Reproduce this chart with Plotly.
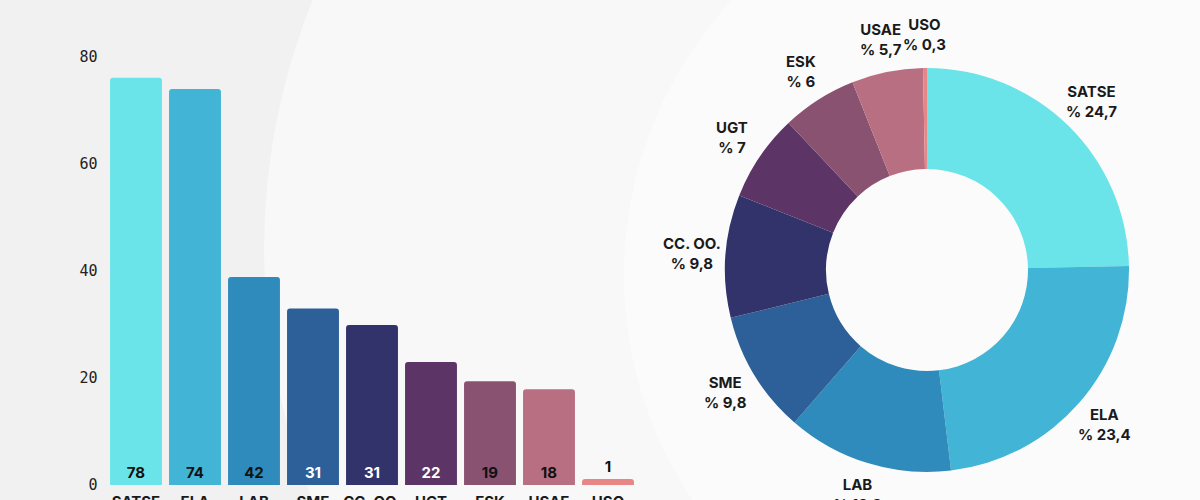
import math
import plotly.graph_objects as go

# seats per union (labels) and bar heights as drawn in the picture
unions = ["SATSE", "ELA", "LAB", "SME", "CC. OO.", "UGT", "ESK", "USAE", "USO"]
seats = [78, 74, 42, 31, 31, 22, 19, 18, 1]
bar_heights = [76.1, 74.0, 38.9, 33.0, 29.9, 23.0, 19.4, 17.9, 1.1]
pct_labels = ["24,7", "23,4", "13,3", "9,8", "9,8", "7", "6", "5,7", "0,3"]
colors = ["#6ae4e8", "#42b4d5", "#2e8bbb", "#2d5f98", "#32336b",
          "#5c3566", "#8a5271", "#b96f82", "#e68686"]
text_colors = ["#111111", "#111111", "#111111", "#ffffff", "#ffffff",
               "#ffffff", "#111111", "#111111", "#111111"]
y_ticks = [0, 20, 40, 60, 80]

W, H = 1200, 500
# donut placement (pixels)
PIE_CX, PIE_CY, PIE_R = 927, 270, 202
LABEL_R = 1.165 * PIE_R

fig = go.Figure()

fig.add_trace(go.Bar(
    x=unions,
    y=bar_heights,
    text=[str(s) for s in seats],
    textposition=["inside"] * 8 + ["outside"],
    insidetextanchor="start",
    textangle=0,
    textfont=dict(family="Inter", size=15, color=text_colors, weight="bold"),
    outsidetextfont=dict(family="Inter", size=15, color="#111111", weight="bold"),
    cliponaxis=False,
    marker=dict(color=colors, cornerradius=3, line=dict(width=0)),
    showlegend=False,
    hoverinfo="x+text",
))

fig.add_trace(go.Pie(
    labels=unions,
    values=seats,
    textposition="none",
    hole=0.5,
    sort=False,
    direction="clockwise",
    rotation=0,
    marker=dict(colors=colors, line=dict(width=0)),
    domain=dict(x=[(PIE_CX - PIE_R) / W, (PIE_CX + PIE_R) / W],
                y=[1 - (PIE_CY + PIE_R) / H, 1 - (PIE_CY - PIE_R) / H]),
    showlegend=False,
))

# slice labels centred just outside the ring at each slice's mid angle
annotations = []
total = sum(seats)
cum = 0
for name, s, pct in zip(unions, seats, pct_labels):
    mid = (cum + s / 2) / total * 2 * math.pi
    cum += s
    px = PIE_CX + LABEL_R * math.sin(mid)
    py = PIE_CY - LABEL_R * math.cos(mid)
    annotations.append(dict(
        x=px / W, y=1 - py / H, xref="paper", yref="paper",
        text=f"{name}<br>% {pct}", showarrow=False,
        xanchor="center", yanchor="middle", align="center",
        font=dict(family="Inter", size=15, color="#1a1a1a", weight="bold"),
    ))

fig.update_layout(
    width=W,
    height=H,
    margin=dict(l=0, r=0, t=0, b=0),
    paper_bgcolor="#f1f1f1",
    plot_bgcolor="rgba(0,0,0,0)",
    bargap=0.12,
    xaxis=dict(
        domain=[106.5 / W, 637.5 / W],
        showgrid=False, zeroline=False, showline=False, automargin=False,
        tickfont=dict(family="Inter", size=15, color="#1a1a1a", weight="bold"),
        ticks="", ticklabelstandoff=6, fixedrange=True,
    ),
    yaxis=dict(
        domain=[1 - 485 / H, 1 - 57 / H],
        range=[0, 80],
        tickvals=y_ticks,
        showgrid=False, zeroline=False, showline=False, automargin=False,
        tickfont=dict(family="DejaVu Sans Mono", size=15, color="#222222"),
        ticks="", ticklabelstandoff=8, fixedrange=True,
    ),
    annotations=annotations,
    shapes=[
        dict(type="circle", xref="paper", yref="paper", layer="below",
             x0=0.22, x1=1.45, y0=-0.9, y1=1.9,
             fillcolor="#f8f8f8", line=dict(width=0)),
        dict(type="circle", xref="paper", yref="paper", layer="below",
             x0=0.52, x1=1.18, y0=-0.35, y1=1.25,
             fillcolor="#fbfbfb", line=dict(width=0)),
    ],
)

fig.write_html("out.html", config={"displayModeBar": False},
               post_script="document.body.style.margin='0';")
